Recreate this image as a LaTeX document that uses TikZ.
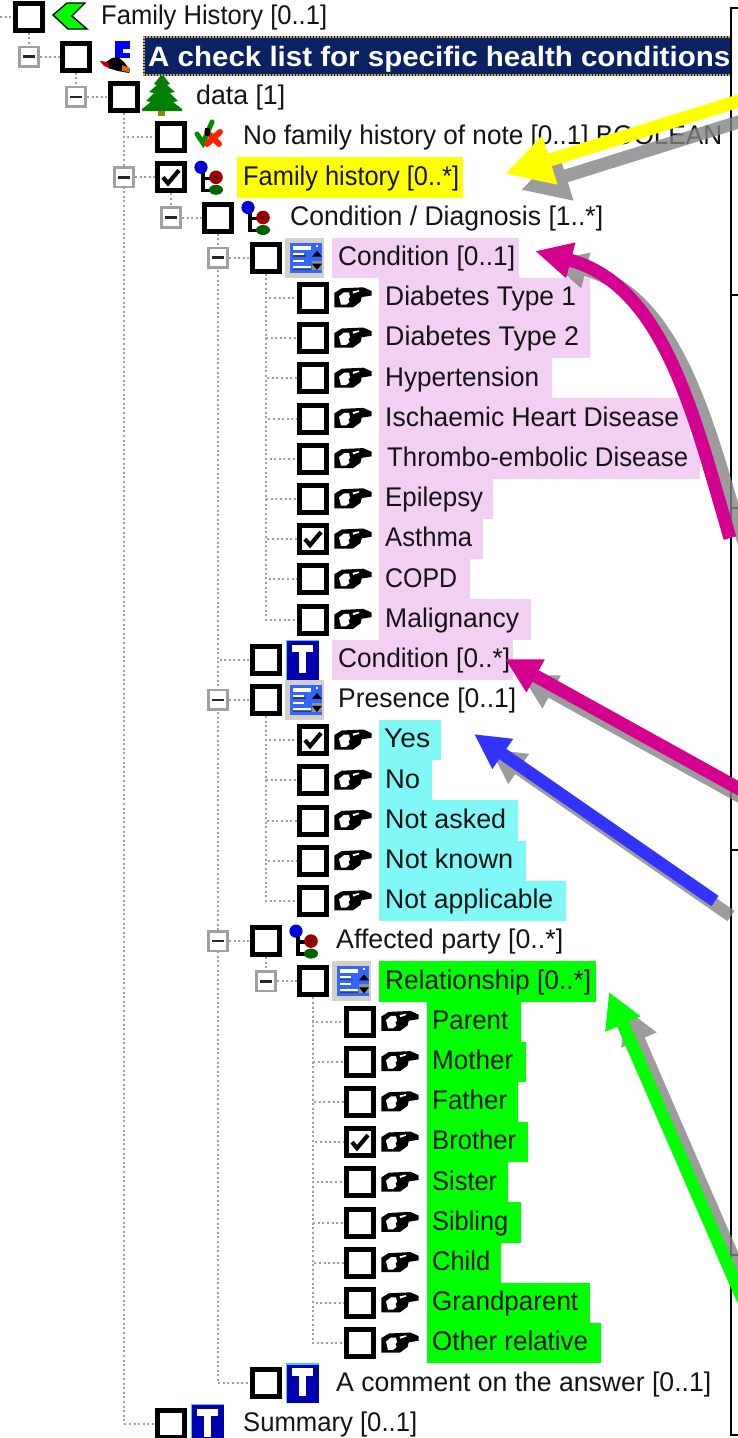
\documentclass[tikz,border=0pt]{standalone}
\usepackage{fontspec}
\usepackage{graphicx}
\setmainfont{Liberation Sans}
\usetikzlibrary{arrows.meta,calc}
\definecolor{pinkbg}{HTML}{F3CFF3}
\definecolor{cyanbg}{HTML}{80F8F8}
\definecolor{greenbg}{HTML}{00FF00}
\definecolor{yellowbg}{HTML}{FFFF00}
\definecolor{navy}{HTML}{0A2164}
\definecolor{magarrow}{HTML}{D4008F}
\definecolor{bluearrow}{HTML}{3333FF}
\definecolor{shadowgray}{HTML}{848484}
\definecolor{treedot}{HTML}{A0A0A0}
\definecolor{formgray}{HTML}{D4D0C8}
\definecolor{formblue}{HTML}{3366FF}
\definecolor{tblue}{HTML}{0000B0}
\tikzset{
  cbox/.style={draw=black,fill=white,line width=5pt,minimum size=27pt,inner sep=0pt,rectangle},
  expbox/.style={draw=treedot,fill=white,line width=2.6pt,minimum size=19.5pt,inner sep=0pt,rectangle},
  treeline/.style={draw=treedot,line width=2pt,dash pattern=on 2pt off 2.6pt},
  lab/.style={anchor=base west,inner sep=0pt,text=black!92,font=\fontsize{27}{27}\selectfont},
  framel/.style={draw=black,line width=2.2pt}
}
\newcommand\RY[1]{{16.5+40.2*#1}}
\newcommand\band[4]{\fill[#4] (#2,{16.5+40.2*#1-20.2}) rectangle (#3,{16.5+40.2*#1+20.2});}
\newcommand\cb[2]{\node[cbox] (b#1) at (#2,\RY{#1}) {};}
\newcommand\ex[2]{\node[expbox] (e#1) at (#2,\RY{#1}) {};\draw[line width=2.6pt,black!85] ($(e#1.center)+(-6,0)$) -- ($(e#1.center)+(6,0)$);}
\newcommand\ck[1]{\begin{scope}[shift={(b#1.center)}]\draw[black,line width=4.2pt,miter limit=2] (-8,0) -- (-3,6) -- (8,-7);\end{scope}}
\newcommand\lb[4]{\node[lab] (t#1) at (#2,{16.5+40.2*#1+7.8}) {\resizebox{#3pt}{\height}{#4}};}
\newcommand\hand[1]{\begin{scope}[shift={(b#1.center)}]
  \fill[black] (21.3,-5) -- (28.7,-9.6) -- (50.3,-10.6) -- (58.7,-6.9) -- (58.7,-2.4) -- (48.7,-0.8) -- (47.5,4) -- (40,9.4) -- (21.3,9.4) -- cycle;
  \fill[white] (26,-1.6) -- (31,-5.6) -- (36,-5.6) -- (37,-1) -- (35.5,1) -- (36.5,4) -- (33,6.8) -- (28,6.8) -- cycle;
  \fill[white] (39.5,-6.4) -- (46,-7.8) -- (46,-6.4) -- (40.3,-4.4) -- cycle;
\end{scope}}
\newcommand\nodeicon[1]{\begin{scope}[shift={(b#1.center)}]
  \draw[black,line width=3.6pt] (32,-8) -- (32,13) -- (43,13) (32,1) -- (43,1);
  \fill[blue!85!black] (30,-10) circle (6.6);
  \fill[red!62!black] (45,0) circle (6.8);
  \fill[black] (45,0) circle (1.4);
  \fill[green!38!black] (45,12.5) ellipse (7 and 5);
\end{scope}}
\newcommand\formicon[1]{\begin{scope}[shift={(b#1.center)}]
  \fill[formgray] (19,-20) rectangle (58,20);
  \fill[formblue] (24,-15) rectangle (56,15);
  \fill[white] (27,-12) rectangle (45,-8);
  \fill[white] (27,-5) rectangle (38,-3);
  \fill[black!75] (27,-2.5) rectangle (40,-1);
  \fill[white] (27,2) rectangle (38,4);
  \fill[white] (27,8) rectangle (45,10);
  \fill[black!75] (27,11) rectangle (45,12);
  \fill[white] (50,-13) rectangle (52,-11);
  \fill[black] (51,-7) -- (46,-1) -- (56,-1) -- cycle;
  \fill[formgray!70!black] (46,3) rectangle (56,12);
  \fill[black] (51,12) -- (46,6) -- (56,6) -- cycle;
\end{scope}}
\newcommand\ticon[1]{\begin{scope}[shift={(b#1.center)}]
  \fill[cyan!70] (19.5,-20) rectangle (53,20);
  \fill[tblue] (21,-18.5) rectangle (53,20);
  \fill[white] (26,-15) rectangle (47,-7.5);
  \fill[white] (32.5,-7.5) rectangle (39.5,13);
\end{scope}}
\begin{document}
\begin{tikzpicture}[x=1pt,y=-1pt]
\useasboundingbox (0,0) rectangle (738,1438);
\clip (0,0) rectangle (738,1438);
\fill[white] (0,0) rectangle (738,1438);
% bands
\band{4}{237}{463}{yellowbg}
\band{6}{332}{519}{pinkbg}
\band{7}{379}{590}{pinkbg}
\band{8}{379}{590}{pinkbg}
\band{9}{379}{552}{pinkbg}
\band{10}{379}{690}{pinkbg}
\band{11}{379}{700}{pinkbg}
\band{12}{379}{493}{pinkbg}
\band{13}{379}{483}{pinkbg}
\band{14}{379}{470}{pinkbg}
\band{15}{379}{531}{pinkbg}
\band{16}{332}{513}{pinkbg}
\band{18}{379}{441}{cyanbg}
\band{19}{379}{432}{cyanbg}
\band{20}{379}{518}{cyanbg}
\band{21}{379}{526}{cyanbg}
\band{22}{379}{566}{cyanbg}
\band{24}{379}{596}{greenbg}
\band{25}{427}{521}{greenbg}
\band{26}{427}{526}{greenbg}
\band{27}{427}{518}{greenbg}
\band{28}{427}{528}{greenbg}
\band{29}{427}{508}{greenbg}
\band{30}{427}{521}{greenbg}
\band{31}{427}{501}{greenbg}
\band{32}{427}{590}{greenbg}
\band{33}{427}{601}{greenbg}
% invisible pass: names the boxes so that tree lines can lie behind them
\begin{scope}[opacity=0]
\foreach \r/\x in {0/29,1/76,2/124,3/171,4/171,5/218,6/266,16/266,17/266,23/266,24/313,34/266,35/171}{\cb{\r}{\x}}
\foreach \r in {7,...,15,18,19,20,21,22}{\cb{\r}{313}}
\foreach \r in {25,...,33}{\cb{\r}{360}}
\foreach \r/\x in {1/29,2/76,4/124,5/171,6/218,17/218,23/218,24/266}{\node[expbox] (e\r) at (\x,\RY{\r}) {};}
\end{scope}
\coordinate (leftfree) at (0,\RY{0});
% tree lines
\draw[treeline] (leftfree) -- (b0.west);
\draw[treeline] (b0.south) -- (e1.north);
\draw[treeline] (e1.east) -- (b1.west);
\draw[treeline] (b1.south) -- (e2.north);
\draw[treeline] (e2.east) -- (b2.west);
\draw[treeline] (b2.south) |- (b35.west);
\draw[treeline] (b2.south) |- (b3.west);
\draw[treeline] (e4.east) -- (b4.west);
\draw[treeline] (b4.south) -- (e5.north);
\draw[treeline] (e5.east) -- (b5.west);
\draw[treeline] (b5.south) |- (b34.west);
\draw[treeline] (b5.south) |- (b16.west);
\draw[treeline] (e6.east) -- (b6.west);
\foreach \r in {7,...,15}{\draw[treeline] (b6.south) |- (b\r.west);}
\draw[treeline] (e17.east) -- (b17.west);
\foreach \r in {18,...,22}{\draw[treeline] (b17.south) |- (b\r.west);}
\draw[treeline] (e23.east) -- (b23.west);
\draw[treeline] (b23.south) -- (e24.north);
\draw[treeline] (e24.east) -- (b24.west);
\foreach \r in {25,...,33}{\draw[treeline] (b24.south) |- (b\r.west);}
% expanders and boxes
\foreach \r/\x in {1/29,2/76,4/124,5/171,6/218,17/218,23/218,24/266}{\ex{\r}{\x}}
\foreach \r/\x in {0/29,1/76,2/124,3/171,4/171,5/218,6/266,16/266,17/266,23/266,24/313,34/266,35/171}{\cb{\r}{\x}}
\foreach \r in {7,...,15,18,19,20,21,22}{\cb{\r}{313}\hand{\r}}
\foreach \r in {25,...,33}{\cb{\r}{360}\hand{\r}}
\ck{4}\ck{13}\ck{18}\ck{28}
% special icons
\filldraw[fill=greenbg,draw=black,line width=1.4pt] (67,3) -- (85,3) -- (72,16) -- (87,29) -- (68,29) -- (53,15) -- cycle;
\fill[blue] (115,41) rectangle (130,49);
\fill[blue] (115,49) rectangle (123,53);
\fill[blue] (115,53) rectangle (130,58);
\fill[black] (106,62) -- (112,58) -- (118,57) -- (124,62) -- (130,70) -- (129,73) -- (118,71) -- (108,68) -- cycle;
\fill[red!75!black] (100,61) -- (108,62) -- (110,68) -- (104,66) -- cycle;
\fill[orange!85!black] (122,65) -- (130,68) -- (129,72) -- (122,71) -- cycle;
\fill[green!50!black] (162,74) -- (170,84) -- (167,85) -- (175,92) -- (170,93) -- (178,101) -- (173,102) -- (182,109) -- (182,111) -- (142,111) -- (142,109) -- (151,102) -- (146,101) -- (154,93) -- (149,92) -- (157,85) -- (154,84) -- cycle;
\fill[olive] (158,111) rectangle (165,116);
\draw[green!55!black,line width=5pt,line cap=round] (197,134) -- (203,143) -- (212,122);
\draw[red!75!orange,line width=6pt,line cap=round] (207,132) -- (219,144) (220,132) -- (207,144);
\fill[black] (205,128) rectangle (210,136);
\nodeicon{4}\nodeicon{5}\nodeicon{23}
\formicon{6}\formicon{17}\formicon{24}
\ticon{16}\ticon{34}\ticon{35}
% banner
\fill[navy] (143,36) rectangle (730,76);
\draw[draw=black!30!yellow!60!brown,line width=2pt,dash pattern=on 1.5pt off 1.5pt] (143,37) -- (730,37) (143,75) -- (730,75) (144,37) -- (144,75);
\node[anchor=base west,inner sep=0pt,text=white,font=\fontsize{28}{28}\selectfont\bfseries] (t1) at (148,66) {\resizebox{582pt}{\height}{A check list for specific health conditions}};
% labels
\lb{0}{101}{226}{Family History [0..1]}
\lb{2}{196}{89}{data [1]}
\lb{3}{243}{479}{No family history of note [0..1] BOOLEAN}
\lb{4}{243}{216}{Family history [0..*]}
\lb{5}{290}{313}{Condition / Diagnosis [1..*]}
\lb{6}{338}{177}{Condition [0..1]}
\lb{7}{385}{191}{Diabetes Type 1}
\lb{8}{385}{194}{Diabetes Type 2}
\lb{9}{385}{154}{Hypertension}
\lb{10}{385}{294}{Ischaemic Heart Disease}
\lb{11}{387}{301}{Thrombo-embolic Disease}
\lb{12}{385}{98}{Epilepsy}
\lb{13}{385}{87}{Asthma}
\lb{14}{385}{72}{COPD}
\lb{15}{385}{134}{Malignancy}
\lb{16}{338}{172}{Condition [0..*]}
\lb{17}{338}{178}{Presence [0..1]}
\lb{18}{384}{46}{Yes}
\lb{19}{385}{35}{No}
\lb{20}{385}{121}{Not asked}
\lb{21}{385}{128}{Not known}
\lb{22}{385}{168}{Not applicable}
\lb{23}{336}{227}{Affected party [0..*]}
\lb{24}{385}{206}{Relationship [0..*]}
\lb{25}{432}{76}{Parent}
\lb{26}{432}{81}{Mother}
\lb{27}{432}{75}{Father}
\lb{28}{432}{84}{Brother}
\lb{29}{432}{65}{Sister}
\lb{30}{432}{76}{Sibling}
\lb{31}{432}{58}{Child}
\lb{32}{432}{146}{Grandparent}
\lb{33}{432}{156}{Other relative}
\lb{34}{336}{375}{A comment on the answer [0..1]}
\lb{35}{243}{174}{Summary [0..1]}
% frame at right
\coordinate (fa) at (731,8);
\coordinate (fb) at (731,1435);
\draw[framel] (738,8) -- (fa) -- (fb) -- (738,1435);
\foreach \yy in {295,508,850,1255}{\draw[framel] (731,\yy) -- (738,\yy);}
% arrow end points
\coordinate (ya) at (745,99); \coordinate (yb) at (505,174);
\coordinate (ma) at (730,538); \coordinate (mb) at (535,251);
\coordinate (na) at (745,792); \coordinate (nb) at (505,659);
\coordinate (ca) at (715,901); \coordinate (cb) at (474,734);
\coordinate (ga) at (743,1300); \coordinate (gb) at (609,992);
% shadows
\begin{scope}[transparency group,opacity=.8]
\draw[shadowgray,line width=13pt,-{Triangle[length=47pt,width=48pt]}] ($(ya)+(16,16)$) -- ($(yb)+(16,16)$);
\draw[shadowgray,line width=13pt,-{Triangle[length=35pt,width=35pt]}] ($(na)+(16,16)$) -- ($(nb)+(16,16)$);
\draw[shadowgray,line width=12.5pt,-{Triangle[length=35pt,width=34pt]}] ($(ca)+(16,15)$) -- ($(cb)+(16,15)$);
\draw[shadowgray,line width=12.5pt,-{Triangle[length=35pt,width=36pt]}] ($(ga)+(16,16)$) -- ($(gb)+(16,16)$);
\draw[shadowgray,line width=12pt,-{Triangle[length=37pt,width=34pt]}] ($(ma)+(15,10)$) .. controls (710,430) and (680,295) .. ($(mb)+(15,10)$);
\end{scope}
% arrows
\draw[yellowbg,line width=13pt,-{Triangle[length=47pt,width=48pt]}] (ya) -- (yb);
\draw[magarrow,line width=13pt,-{Triangle[length=37pt,width=34pt]}] (ma) .. controls (695,420) and (665,285) .. (mb);
\draw[magarrow,line width=13pt,-{Triangle[length=35pt,width=35pt]}] (na) -- (nb);
\draw[bluearrow,line width=12.5pt,-{Triangle[length=35pt,width=34pt]}] (ca) -- (cb);
\draw[greenbg,line width=12.5pt,-{Triangle[length=35pt,width=36pt]}] (ga) -- (gb);
\end{tikzpicture}
\end{document}
